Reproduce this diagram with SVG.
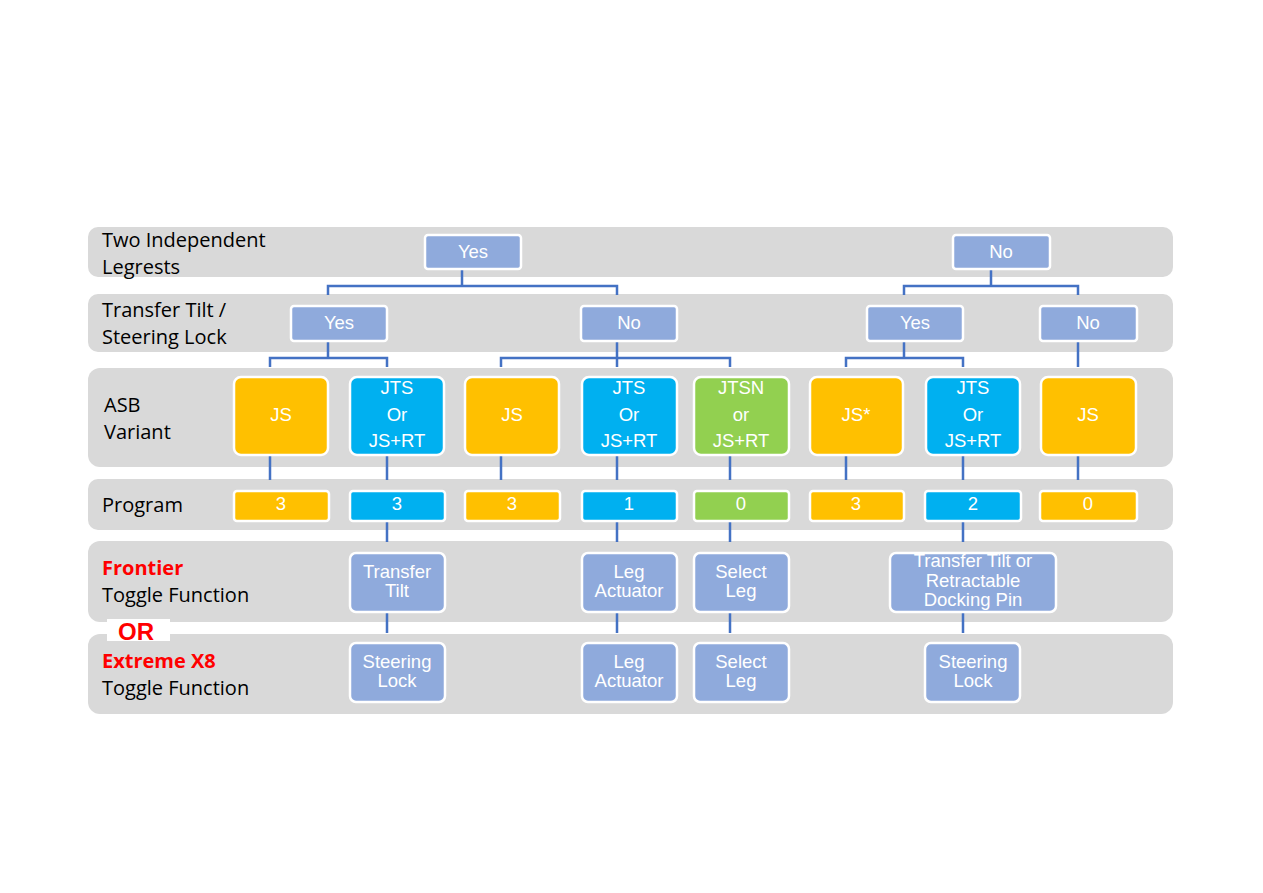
<svg xmlns="http://www.w3.org/2000/svg" width="1263" height="893" viewBox="0 0 1263 893">
<style>
.band{fill:#d9d9d9}
.lbl{font-family:"Open Sans","Liberation Sans",sans-serif;font-size:20px;fill:#000}
.red{fill:#ff0000;font-weight:bold}
.or{font-family:"Liberation Sans",Arial,sans-serif;font-size:24px;font-weight:bold;fill:#ff0000}
.n rect{stroke:#fff;stroke-width:2.5}
.q rect{fill:#8faadc}
.o rect{fill:#ffc000}
.b rect{fill:#00b0f0}
.g rect{fill:#92d050}
.n text{font-family:"Liberation Sans",Arial,sans-serif;font-size:18.5px;fill:#fff;text-anchor:middle}
.s text{font-size:18.5px}
#connectors path{fill:none;stroke:#4472c4;stroke-width:2.5}
</style>
<rect width="1263" height="893" fill="#fff"/>
<g id="bands">
<rect class="band" x="88" y="227" width="1085" height="50" rx="10"/>
<rect class="band" x="88" y="294" width="1085" height="58" rx="10"/>
<rect class="band" x="88" y="368" width="1085" height="99" rx="12"/>
<rect class="band" x="88" y="479" width="1085" height="51" rx="10"/>
<rect class="band" x="88" y="541" width="1085" height="81" rx="12"/>
<rect class="band" x="88" y="634" width="1085" height="80" rx="12"/>
<rect x="107" y="619" width="63" height="22" fill="#fff"/>
</g>
<g id="labels">
<text class="lbl" x="102" y="247">Two Independent</text>
<text class="lbl" x="102" y="274">Legrests</text>
<text class="lbl" x="102" y="317">Transfer Tilt /</text>
<text class="lbl" x="102" y="344">Steering Lock</text>
<text class="lbl" x="104" y="412">ASB</text>
<text class="lbl" x="104" y="439">Variant</text>
<text class="lbl" x="102" y="512">Program</text>
<text class="lbl red" x="102" y="575">Frontier</text>
<text class="lbl" x="102" y="602">Toggle Function</text>
<text class="or" x="118" y="640">OR</text>
<text class="lbl red" x="102" y="668">Extreme X8</text>
<text class="lbl" x="102" y="695">Toggle Function</text>
</g>
<g id="connectors">
<path d="M462 269V286M328 295V286H617V295"/>
<path d="M991 269V286M904 295V286H1078V295"/>
<path d="M328 341V358M270 367V358H387V367"/>
<path d="M617 341V367M501 367V358H730V367"/>
<path d="M904 341V358M846 367V358H963V367"/>
<path d="M1078 341V367"/>
<path d="M270 455V480M387 455V480M501 455V480M617 455V480M730 455V480M846 455V480M963 455V480M1078 455V480"/>
<path d="M387 521V542M617 521V542M730 521V542M963 521V542"/>
<path d="M387 613V633M617 613V633M730 613V633M963 613V633"/>
</g>
<g id="l1-yes" class="n q"><rect x="425" y="235" width="96" height="34" rx="3"/><text x="473" y="258">Yes</text></g>
<g id="l1-no" class="n q"><rect x="953" y="235" width="97" height="34" rx="3"/><text x="1001" y="258">No</text></g>
<g id="l2-yes-a" class="n q"><rect x="291" y="306" width="96" height="35" rx="3"/><text x="339" y="329">Yes</text></g>
<g id="l2-no-a" class="n q"><rect x="581" y="306" width="96" height="35" rx="3"/><text x="629" y="329">No</text></g>
<g id="l2-yes-b" class="n q"><rect x="867" y="306" width="96" height="35" rx="3"/><text x="915" y="329">Yes</text></g>
<g id="l2-no-b" class="n q"><rect x="1040" y="306" width="97" height="35" rx="3"/><text x="1088" y="329">No</text></g>
<g id="v1" class="n o"><rect x="234" y="377" width="94" height="78" rx="7"/><text x="281" y="421">JS</text></g>
<g id="v2" class="n b"><rect x="350" y="377" width="94" height="78" rx="7"/><text x="397" y="394">JTS</text><text x="397" y="421">Or</text><text x="397" y="447">JS+RT</text></g>
<g id="v3" class="n o"><rect x="465" y="377" width="94" height="78" rx="7"/><text x="512" y="421">JS</text></g>
<g id="v4" class="n b"><rect x="582" y="377" width="95" height="78" rx="7"/><text x="629" y="394">JTS</text><text x="629" y="421">Or</text><text x="629" y="447">JS+RT</text></g>
<g id="v5" class="n g"><rect x="694" y="377" width="95" height="78" rx="7"/><text x="741" y="394">JTSN</text><text x="741" y="421">or</text><text x="741" y="447">JS+RT</text></g>
<g id="v6" class="n o"><rect x="810" y="377" width="93" height="78" rx="7"/><text x="856" y="421">JS*</text></g>
<g id="v7" class="n b"><rect x="926" y="377" width="94" height="78" rx="7"/><text x="973" y="394">JTS</text><text x="973" y="421">Or</text><text x="973" y="447">JS+RT</text></g>
<g id="v8" class="n o"><rect x="1041" y="377" width="95" height="78" rx="7"/><text x="1088" y="421">JS</text></g>
<g id="p1" class="n o"><rect x="234" y="491" width="95" height="30" rx="3"/><text x="281" y="510">3</text></g>
<g id="p2" class="n b"><rect x="350" y="491" width="95" height="30" rx="3"/><text x="397" y="510">3</text></g>
<g id="p3" class="n o"><rect x="465" y="491" width="95" height="30" rx="3"/><text x="512" y="510">3</text></g>
<g id="p4" class="n b"><rect x="582" y="491" width="95" height="30" rx="3"/><text x="629" y="510">1</text></g>
<g id="p5" class="n g"><rect x="694" y="491" width="95" height="30" rx="3"/><text x="741" y="510">0</text></g>
<g id="p6" class="n o"><rect x="810" y="491" width="94" height="30" rx="3"/><text x="856" y="510">3</text></g>
<g id="p7" class="n b"><rect x="925" y="491" width="96" height="30" rx="3"/><text x="973" y="510">2</text></g>
<g id="p8" class="n o"><rect x="1040" y="491" width="97" height="30" rx="3"/><text x="1088" y="510">0</text></g>
<g id="f1" class="n q s"><rect x="350" y="553" width="95" height="59" rx="6"/><text x="397" y="578">Transfer</text><text x="397" y="597">Tilt</text></g>
<g id="f2" class="n q s"><rect x="582" y="553" width="95" height="59" rx="6"/><text x="629" y="578">Leg</text><text x="629" y="597">Actuator</text></g>
<g id="f3" class="n q s"><rect x="694" y="553" width="95" height="59" rx="6"/><text x="741" y="578">Select</text><text x="741" y="597">Leg</text></g>
<g id="f4" class="n q s"><rect x="890" y="553" width="166" height="59" rx="6"/><text x="973" y="567">Transfer Tilt or</text><text x="973" y="587">Retractable</text><text x="973" y="606">Docking Pin</text></g>
<g id="e1" class="n q s"><rect x="350" y="643" width="95" height="59" rx="6"/><text x="397" y="668">Steering</text><text x="397" y="687">Lock</text></g>
<g id="e2" class="n q s"><rect x="582" y="643" width="95" height="59" rx="6"/><text x="629" y="668">Leg</text><text x="629" y="687">Actuator</text></g>
<g id="e3" class="n q s"><rect x="694" y="643" width="95" height="59" rx="6"/><text x="741" y="668">Select</text><text x="741" y="687">Leg</text></g>
<g id="e4" class="n q s"><rect x="925" y="643" width="95" height="59" rx="6"/><text x="973" y="668">Steering</text><text x="973" y="687">Lock</text></g>
</svg>
